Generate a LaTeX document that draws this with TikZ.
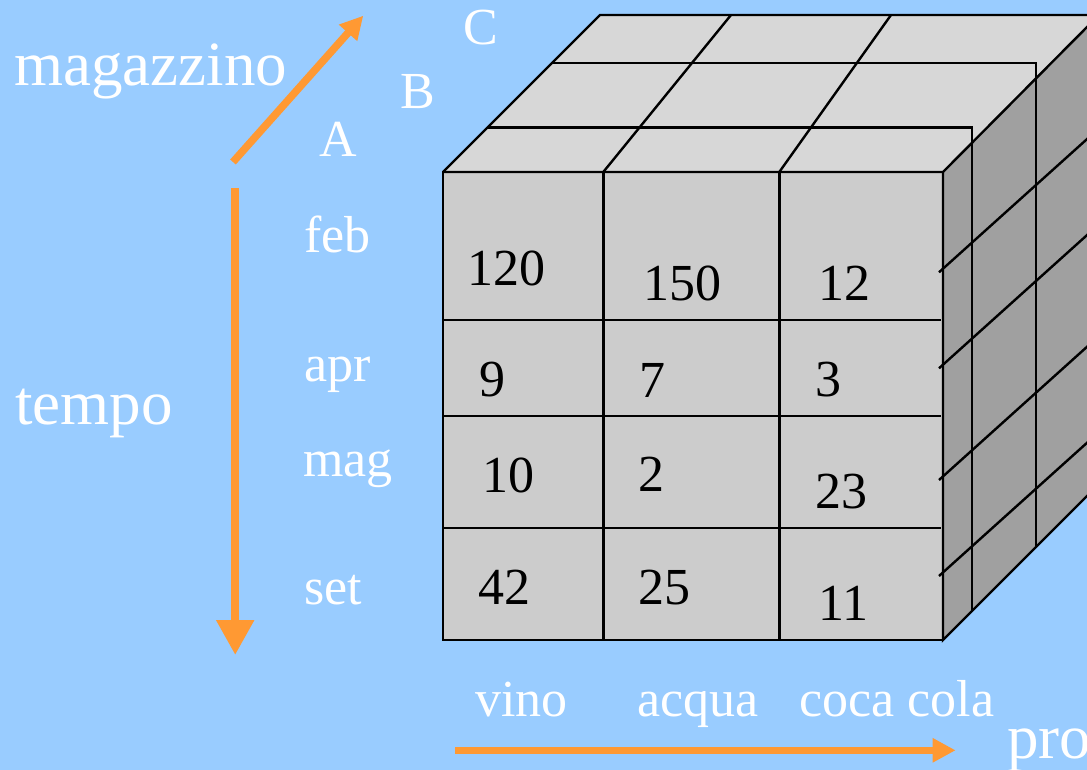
\documentclass[tikz,border=0pt]{standalone}
\usepackage{fontspec}
\setmainfont{Liberation Serif}
\usetikzlibrary{arrows.meta}
\definecolor{sky}{HTML}{99CCFF}
\definecolor{axis}{HTML}{FF9933}
\definecolor{topgray}{HTML}{D7D7D7}
\definecolor{frontgray}{HTML}{CCCCCC}
\definecolor{sidegray}{HTML}{A0A0A0}

\begin{document}
\begin{tikzpicture}[x=1pt,y=-1pt,
  edge/.style={line width=2.4pt, line join=miter},
  axisarrow/.style={draw=axis, line width=7.5pt},
  biglabel/.style={text=white, font=\fontsize{63}{70}\selectfont, inner sep=0pt, anchor=base west},
  smalllabel/.style={text=white, font=\fontsize{52}{60}\selectfont, inner sep=0pt, anchor=base west},
  cell/.style={text=black, font=\fontsize{52}{60}\selectfont, inner sep=0pt, anchor=base west}]
\useasboundingbox (0,0) rectangle (1087,770);
\fill[sky] (0,0) rectangle (1087,770);

\begin{scope}
\clip (0,0) rectangle (1087,770);

% cube faces
\fill[topgray] (443,172) -- (600,15) -- (1087,15) -- (1087,27) -- (943,172) -- cycle;
\fill[sidegray] (943,172) -- (1087,27) -- (1087,496) -- (943,640) -- cycle;
\fill[frontgray] (443,172) rectangle (943,640);

% top face outline, layers and columns
\draw[edge] (443,172) -- (600,15) -- (1090,15);
\draw[edge] (443,172) -- (943,172) -- (1090,24);
\draw[edge] (488,127.7) -- (971.7,127.7) -- (971.7,610);
\draw[edge] (552,63.3) -- (1035.7,63.3) -- (1035.7,546);
\draw[edge] (603.3,172) -- (731,15);
\draw[edge] (779.3,172) -- (891,15);

% right face
\draw[edge] (943,172) -- (943,640) -- (1090,493);
\draw[edge] (939,272.3) -- (1090,136.4);
\draw[edge] (939,368.3) -- (1090,232.4);
\draw[edge] (939,480) -- (1090,344.1);
\draw[edge] (939,576) -- (1090,440.1);

% front face grid
\draw[edge] (443,172) rectangle (943,640);
\draw[edge] (603.3,172) -- (603.3,640);
\draw[edge] (779.3,172) -- (779.3,640);
\draw[edge] (443,320) -- (941,320);
\draw[edge] (443,415.7) -- (941,415.7);
\draw[edge] (443,527.7) -- (941,527.7);

% cell values
\node[cell] (c11) at (467,285) {120};
\node[cell] (c12) at (643,300.7) {150};
\node[cell] (c13) at (818,300.7) {12};
\node[cell] (c21) at (479,396.7) {9};
\node[cell] (c22) at (639,397.7) {7};
\node[cell] (c23) at (815,396.7) {3};
\node[cell] (c31) at (482,492.3) {10};
\node[cell] (c32) at (638,491.7) {2};
\node[cell] (c33) at (815,508.3) {23};
\node[cell] (c41) at (478,604) {42};
\node[cell] (c42) at (638,604) {25};
\node[cell] (c43) at (818,620) {11};

% axis labels
\node[biglabel] (mag) at (14,86) {magazzino};
\node[biglabel] (tempo) at (15,424) {tempo};
\node[biglabel] (prod) at (1007,758.3) {pro};

\node[smalllabel] (la) at (319,156.7) {A};
\node[smalllabel] (lb) at (400,108.3) {B};
\node[smalllabel] (lc) at (463,45) {C};

\node[smalllabel] (feb) at (304,252.7) {feb};
\node[smalllabel] (apr) at (304,381.7) {apr};
\node[smalllabel] (mg) at (303,476.7) {mag};
\node[smalllabel] (set) at (304,604) {set};

\node[smalllabel] (vino) at (475,716.7) {vino};
\node[smalllabel] (acqua) at (637,716.7) {acqua};
\node[smalllabel] (coca) at (799,716.7) {coca cola};

% axis arrows
\coordinate (m0) at (233,162);
\coordinate (m1) at (363.3,15.7);
\coordinate (t0) at (235.2,188);
\coordinate (t1) at (235.2,655);
\coordinate (p0) at (455,750.3);
\coordinate (p1) at (955.6,750.3);
\draw[axisarrow, -{Triangle[length=23pt,width=23pt]}] (m0) -- (m1);
\draw[axisarrow, line width=8.3pt, -{Triangle[length=35pt,width=36pt]}] (t0) -- (t1);
\draw[axisarrow, -{Triangle[length=23pt,width=23pt]}] (p0) -- (p1);
\end{scope}
\end{tikzpicture}
\end{document}
